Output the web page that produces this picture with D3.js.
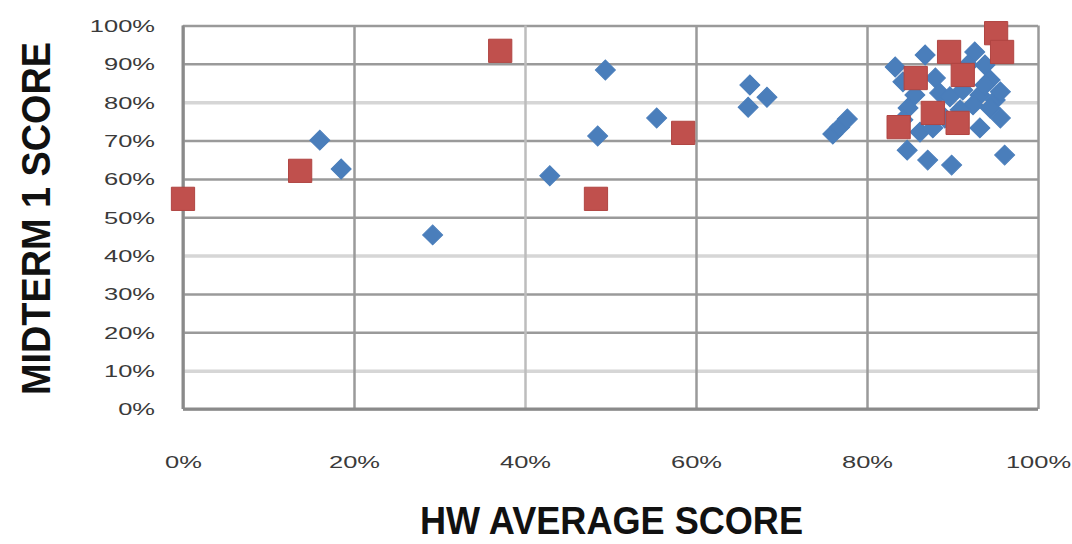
<!DOCTYPE html>
<html>
<head>
<meta charset="utf-8">
<script src="https://cdn.jsdelivr.net/npm/d3@7"></script>
<style>
  body { margin: 0; background: #fff; }
  svg { display: block; }
</style>
</head>
<body>
<div id="chart"></div>
<script>
// blue diamonds: HW average vs midterm 1
var hwBlue  = [0.160, 0.185, 0.292, 0.429, 0.485, 0.494, 0.554, 0.663, 0.661, 0.683, 0.760, 0.768, 0.777,
               0.833, 0.842, 0.868, 0.880, 0.885, 0.897, 0.912, 0.926, 0.938, 0.944, 0.932, 0.950,
               0.848, 0.862, 0.877, 0.924, 0.944, 0.956, 0.932, 0.847, 0.871, 0.899, 0.961, 0.842,
               0.938, 0.918, 0.956, 0.909, 0.891, 0.856]
var midBlue = [0.701, 0.626, 0.454, 0.608, 0.712, 0.884, 0.759, 0.845, 0.787, 0.813, 0.717, 0.735, 0.756,
               0.892, 0.853, 0.923, 0.863, 0.824, 0.814, 0.832, 0.931, 0.897, 0.858, 0.819, 0.806,
               0.785, 0.722, 0.733, 0.793, 0.785, 0.759, 0.733, 0.675, 0.649, 0.636, 0.662, 0.754,
               0.845, 0.897, 0.827, 0.780, 0.759, 0.819]

// red squares
var hwRed  = [0.000, 0.137, 0.371, 0.483, 0.585, 0.951, 0.958, 0.896, 0.857, 0.912, 0.837, 0.877, 0.906]
var midRed = [0.548, 0.621, 0.934, 0.548, 0.720, 0.980, 0.931, 0.931, 0.863, 0.871, 0.735, 0.772, 0.746]

var xTicks = [0, 0.2, 0.4, 0.6, 0.8, 1]
var yTicks = [0, 0.1, 0.2, 0.3, 0.4, 0.5, 0.6, 0.7, 0.8, 0.9, 1]
var xLabel = "HW AVERAGE SCORE"
var yLabel = "MIDTERM 1 SCORE"

// gridlines that came out pale in the original picture
var paleY = [0.1, 0.4, 0.8]
var paleX = [0.4]

var margin = {top: 25.5, right: 34, bottom: 135, left: 183},
    width = 1072 - margin.left - margin.right,
    height = 544 - margin.top - margin.bottom;

var svg = d3.select("#chart").append("svg")
    .attr("width", 1072)
    .attr("height", 544)
  .append("g")
    .attr("transform", "translate(" + margin.left + "," + margin.top + ")")

var xScale = d3.scaleLinear().domain([0, 1]).range([0, width])
var yScale = d3.scaleLinear().domain([0, 1]).range([height, 0])

var fmt = d3.format(".0%")

// horizontal gridlines + y labels
var yAxis = svg.append("g")
    .attr("class", "y axis")
    .call(d3.axisLeft(yScale).tickValues(yTicks).tickFormat(fmt).tickSize(-width))
yAxis.select(".domain").remove()
yAxis.selectAll("line")
    .attr("stroke", function(d) { return paleY.indexOf(d) >= 0 ? "#d6d6d6" : "#9a9a9a" })
    .attr("stroke-width", function(d) { return paleY.indexOf(d) >= 0 ? 3.5 : 2.5 })
yAxis.selectAll("text")
    .attr("x", 0)
    .attr("dy", "0.35em")
    .attr("transform", "translate(-28,0) scale(1.5,1)")
    .attr("font-family", "Liberation Sans, Arial, sans-serif")
    .attr("font-size", 17)
    .attr("fill", "#3a3a3a")
    .style("text-anchor", "end")

// vertical gridlines + x labels
var xAxis = svg.append("g")
    .attr("class", "x axis")
    .attr("transform", "translate(0," + height + ")")
    .call(d3.axisBottom(xScale).tickValues(xTicks).tickFormat(fmt).tickSize(-height))
xAxis.select(".domain").remove()
xAxis.selectAll("line")
    .attr("stroke", function(d) { return paleX.indexOf(d) >= 0 ? "#bdbdbd" : "#9a9a9a" })
    .attr("stroke-width", 2.5)
xAxis.selectAll("text")
    .attr("y", 0)
    .attr("dy", "0.35em")
    .attr("transform", "translate(0,53) scale(1.5,1)")
    .attr("font-family", "Liberation Sans, Arial, sans-serif")
    .attr("font-size", 17)
    .attr("fill", "#3a3a3a")
    .style("text-anchor", "middle")

// axis lines
svg.append("line")
    .attr("x1", 0).attr("x2", 0)
    .attr("y1", 0).attr("y2", height)
    .attr("stroke", "#8a8a8a").attr("stroke-width", 3)
svg.append("line")
    .attr("x1", 0).attr("x2", width)
    .attr("y1", height).attr("y2", height)
    .attr("stroke", "#8a8a8a").attr("stroke-width", 3)

// blue diamonds
var blueData = hwBlue.map(function(v, i) { return {x: v, y: midBlue[i]} })
svg.selectAll(".dot")
    .data(blueData)
  .enter().append("path")
    .attr("class", "dot")
    .attr("d", d3.symbol().type(d3.symbolSquare).size(200))
    .attr("transform", function(d) {
      return "translate(" + xScale(d.x) + "," + yScale(d.y) + ") rotate(45)"
    })
    .attr("fill", "#4a7ebb")
    .attr("stroke", "#4a7ebb")
    .attr("stroke-width", 1)

// red squares
var redData = hwRed.map(function(v, i) { return {x: v, y: midRed[i]} })
svg.selectAll(".sq")
    .data(redData)
  .enter().append("path")
    .attr("class", "sq")
    .attr("d", d3.symbol().type(d3.symbolSquare).size(540))
    .attr("transform", function(d) {
      return "translate(" + xScale(d.x) + "," + yScale(d.y) + ")"
    })
    .attr("fill", "#c0504d")
    .attr("stroke", "#b04542")
    .attr("stroke-width", 1)

// axis titles
svg.append("text")
    .attr("x", 237)
    .attr("y", height + 125)
    .attr("textLength", 383)
    .attr("lengthAdjust", "spacingAndGlyphs")
    .attr("font-family", "Liberation Sans, Arial, sans-serif")
    .attr("font-weight", "bold")
    .attr("font-size", 38)
    .attr("fill", "#111")
    .text(xLabel)

svg.append("text")
    .attr("transform", "translate(" + (50 - margin.left) + "," + (395 - margin.top) + ") rotate(-90)")
    .attr("textLength", 353)
    .attr("lengthAdjust", "spacingAndGlyphs")
    .attr("font-family", "Liberation Sans, Arial, sans-serif")
    .attr("font-weight", "bold")
    .attr("font-size", 40)
    .attr("fill", "#111")
    .text(yLabel)
</script>
</body>
</html>
